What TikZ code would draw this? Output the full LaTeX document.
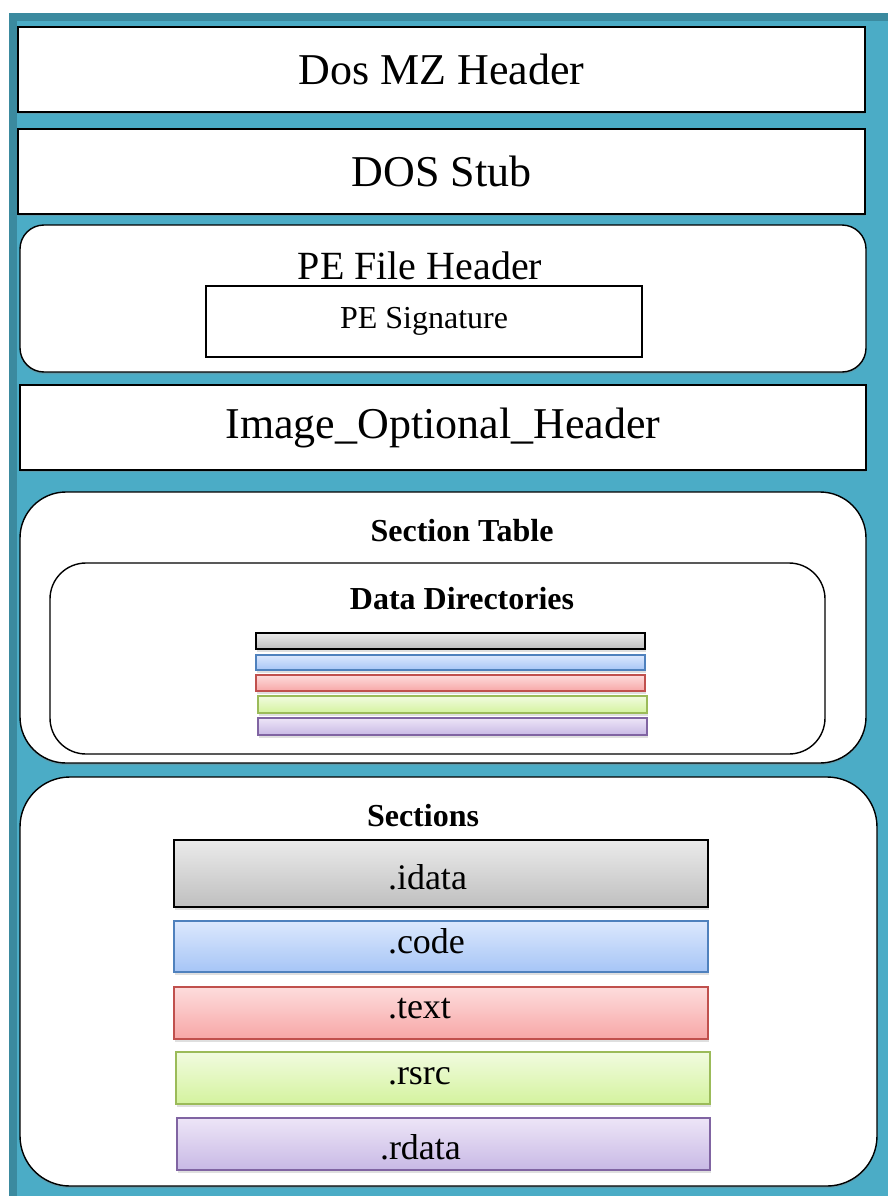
\documentclass[tikz,border=0pt]{standalone}
\usepackage{fontspec}
\setmainfont{Liberation Serif}
\usetikzlibrary{shadows}

\definecolor{panel}{HTML}{4BACC6}
\definecolor{paneldark}{HTML}{3B8A9F}
\definecolor{blueline}{HTML}{4F81BD}
\definecolor{redline}{HTML}{C0504D}
\definecolor{greenline}{HTML}{9BBB59}
\definecolor{purpleline}{HTML}{8064A2}
\definecolor{bluetop}{HTML}{DCE8FD}
\definecolor{bluebot}{HTML}{A6C5F6}
\definecolor{redtop}{HTML}{FDDCDC}
\definecolor{redbot}{HTML}{F7A7A7}
\definecolor{greentop}{HTML}{F1FBDF}
\definecolor{greenbot}{HTML}{D4F39E}
\definecolor{purpletop}{HTML}{EDE5F7}
\definecolor{purplebot}{HTML}{C8B9E5}

\newcommand\hdrfont{\fontsize{44}{50}\selectfont}
\newcommand\subfont{\fontsize{40}{46}\selectfont}
\newcommand\sigfont{\fontsize{32}{36}\selectfont}
\newcommand\ttlfont{\fontsize{32}{36}\selectfont\bfseries}
\newcommand\secfont{\fontsize{36}{40}\selectfont}

\begin{document}
\begin{tikzpicture}[x=1pt,y=-1pt]
\tikzstyle{every node}=[inner sep=0pt, outer sep=0pt]
\tikzstyle{hdr}=[draw=black, line width=1.4pt, fill=white, anchor=north west,
  drop shadow={opacity=0.35, shadow xshift=0pt, shadow yshift=-2pt}]
\tikzstyle{roundhdr}=[hdr, rounded corners=#1]
\tikzstyle{bar}=[line width=1.3pt, anchor=north west,
  drop shadow={opacity=0.25, shadow xshift=1pt, shadow yshift=-3pt}]
\tikzset{
  grey/.style={bar, draw=black, top color=black!8, bottom color=black!25},
  blue/.style={bar, draw=blueline, top color=bluetop, bottom color=bluebot},
  red/.style={bar, draw=redline, top color=redtop, bottom color=redbot},
  green/.style={bar, draw=greenline, top color=greentop, bottom color=greenbot},
  purple/.style={bar, draw=purpleline, top color=purpletop, bottom color=purplebot}
}

\useasboundingbox (0,0) rectangle (888,1196);

% panel behind everything
\fill[panel] (9,13) rectangle (888,1196);
\fill[paneldark] (9,13) rectangle (888,21);
\fill[paneldark] (9,13) rectangle (17,1196);

% headers
\node[hdr, minimum width=847pt, minimum height=85pt, font=\hdrfont] (mz) at (18,27) {Dos MZ Header};
\node[hdr, minimum width=847pt, minimum height=85pt, font=\hdrfont] (stub) at (18,129) {DOS Stub};

\node[roundhdr=24pt, minimum width=846pt, minimum height=147pt] (pe) at (20,225) {};
\node[font=\subfont, anchor=base] (pet) at (420,279) {PE File Header};
\node[draw=black, line width=1.4pt, anchor=north west, minimum width=436pt, minimum height=71pt,
  font=\sigfont] (sig) at (206,286) {PE Signature};

\node[hdr, minimum width=846pt, minimum height=85pt, font=\hdrfont] (opt) at (20,385) {Image\_Optional\_Header};

% section table with data directories
\node[roundhdr=46pt, minimum width=846pt, minimum height=271pt] (stab) at (20,492) {};
\node[font=\ttlfont, anchor=base] (stabt) at (462,541) {Section Table};
\node[draw=black, line width=1.4pt, rounded corners=36pt, anchor=north west,
  minimum width=775pt, minimum height=191pt] (ddir) at (50,563) {};
\node[font=\ttlfont, anchor=base] (ddirt) at (462,609) {Data Directories};

\node[grey, line width=1.8pt, minimum width=389pt, minimum height=16pt] (dgrey) at (256,633) {};
\node[blue, minimum width=389pt, minimum height=15pt] (dblue) at (256,655) {};
\node[red, minimum width=389pt, minimum height=16pt] (dred) at (256,675) {};
\node[green, minimum width=389pt, minimum height=17pt] (dgreen) at (258,696) {};
\node[purple, minimum width=389pt, minimum height=17pt] (dpurple) at (258,718) {};

% sections
\node[roundhdr=50pt, minimum width=857pt, minimum height=409pt] (secs) at (20,777) {};
\node[font=\ttlfont, anchor=base] (secst) at (423,826) {Sections};

\node[grey, line width=2pt, minimum width=534pt, minimum height=67pt] (idata) at (174,840) {};
\node[blue, minimum width=534pt, minimum height=51pt] (code) at (174,921) {};
\node[red, minimum width=534pt, minimum height=52pt] (text) at (174,987) {};
\node[green, minimum width=534pt, minimum height=52pt] (rsrc) at (176,1052) {};
\node[purple, minimum width=533pt, minimum height=52pt] (rdata) at (177,1118) {};

\node[font=\secfont, anchor=base west] (idatat) at (388,889) {.idata};
\node[font=\secfont, anchor=base west] (codet) at (388,953) {.code};
\node[font=\secfont, anchor=base west] (textt) at (388,1018) {.text};
\node[font=\secfont, anchor=base west] (rsrct) at (388,1084) {.rsrc};
\node[font=\secfont, anchor=base west] (rdatat) at (380,1159) {.rdata};

\end{tikzpicture}
\end{document}
